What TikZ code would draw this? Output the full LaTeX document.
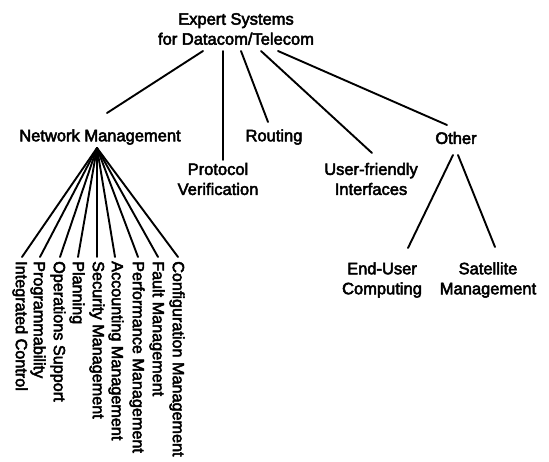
\documentclass[tikz,border=0pt]{standalone}
\usepackage{fontspec}
\newfontfamily\diafam{Liberation Sans}
\newcommand\thick{\special{pdf:literal direct 2 Tr 0.5 w}}
\newcommand\diafont{\diafam\fontsize{16.5}{20}\selectfont\thick}
\newcommand\leaffont{\diafam\fontsize{16.2}{20}\selectfont\thick}
\tikzset{
  lbl/.style={font=\diafont, inner sep=0pt, align=center},
  leaf/.style={font=\leaffont, inner sep=0pt, rotate=-90, anchor=west},
  edge/.style={line width=1.9pt, line cap=round}
}
\begin{document}
\begin{tikzpicture}[x=1pt, y=-1pt]
\useasboundingbox (0,0) rectangle (549,462);
% nodes
\node[lbl] (root) at (236,29) {Expert Systems\\for Datacom/Telecom};
\node[lbl] (nm) at (100,137) {Network Management};
\node[lbl] (pv) at (218,179) {Protocol\\Verification};
\node[lbl] (rt) at (274,137) {Routing};
\node[lbl] (ui) at (371,179) {User-friendly\\Interfaces};
\node[lbl] (ot) at (456,138) {Other};
\node[lbl] (eu) at (382,280) {End-User\\Computing};
\node[lbl] (sm) at (488,280) {Satellite\\Management};
% leaves of Network Management
\node[leaf] (l1) at (20,261) {Integrated Control};
\node[leaf] (l2) at (38,261) {Programmability};
\node[leaf] (l3) at (58,261) {Operations Support};
\node[leaf] (l4) at (77,261) {Planning};
\node[leaf] (l5) at (97,261) {Security Management};
\node[leaf] (l6) at (116,261) {Accounting Management};
\node[leaf] (l7) at (137,261) {Performance Management};
\node[leaf] (l8) at (157,261) {Fault Management};
\node[leaf] (l9) at (177,261) {Configuration Management};
% connector end points
\coordinate (r1) at (203,51);
\coordinate (r2) at (223,51);
\coordinate (r3) at (241,51);
\coordinate (r4) at (261,51);
\coordinate (r5) at (278,51);
\coordinate (nmt) at (107,113);
\coordinate (pvt) at (223,160);
\coordinate (rtt) at (268,122);
\coordinate (uit) at (372,153);
\coordinate (ott) at (447,125);
\coordinate (ob1) at (453,155);
\coordinate (ob2) at (458,155);
\coordinate (eut) at (408,248);
\coordinate (smt) at (495,247);
\coordinate (apex) at (97,148);
\foreach \x [count=\i] in {22,40,60,78,97,115,138,158,178}
  \coordinate (e\i) at (\x,257);
% connectors
\draw[edge] (r1) -- (nmt);
\draw[edge] (r2) -- (pvt);
\draw[edge] (r3) -- (rtt);
\draw[edge] (r4) -- (uit);
\draw[edge] (r5) -- (ott);
\draw[edge] (ob1) -- (eut);
\draw[edge] (ob2) -- (smt);
\foreach \i in {1,...,9}
  \draw[edge] (apex) -- (e\i);
\end{tikzpicture}
\end{document}
